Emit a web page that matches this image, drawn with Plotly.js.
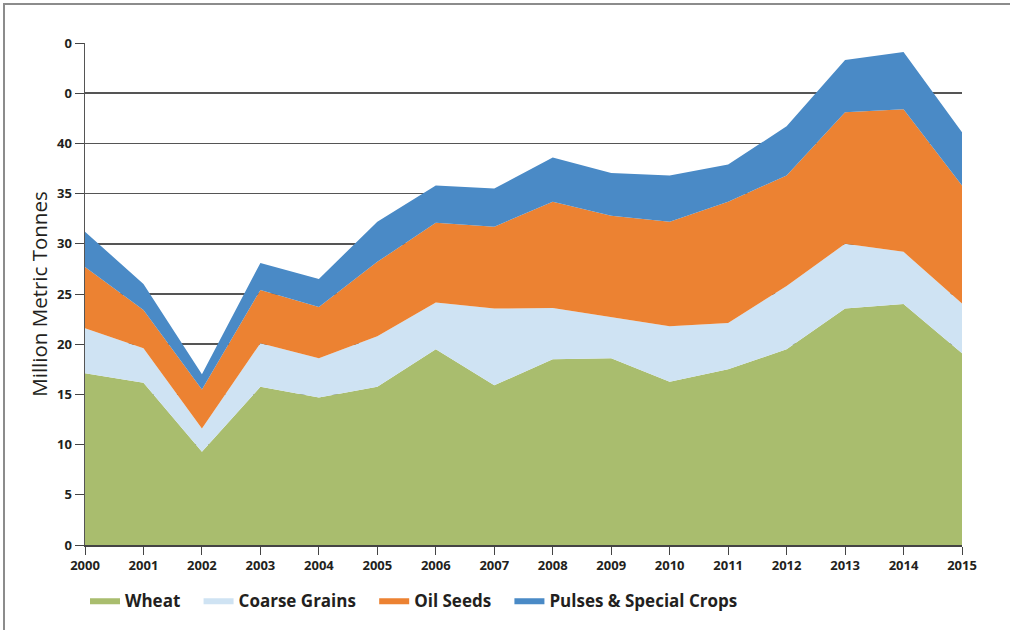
<!DOCTYPE html>
<html>
<head>
<meta charset="utf-8">
<script src="https://cdn.plot.ly/plotly-3.0.1.min.js"></script>
<style>
  body { margin: 0; background: #fff; }
  #frame { position: absolute; left: 3px; top: 3px; width: 1010px; height: 630px;
           border-left: 2px solid #8c8c8c; border-top: 2px solid #8c8c8c; }
  #graph { position: absolute; left: 0; top: 0; width: 1010px; height: 630px; }
</style>
</head>
<body>
<div id="frame"></div>
<div id="graph"></div>
<script>
const years = [2000, 2001, 2002, 2003, 2004, 2005, 2006, 2007, 2008, 2009, 2010, 2011, 2012, 2013, 2014, 2015];

const wheat = [17.1, 16.15, 9.3, 15.75, 14.7, 15.75, 19.5, 15.9, 18.5, 18.6, 16.25, 17.5, 19.5, 23.55, 24.0, 19.1];
const coarseGrains = [4.5, 3.45, 2.3, 4.35, 3.9, 5.05, 4.65, 7.65, 5.1, 4.1, 5.55, 4.6, 6.3, 6.45, 5.2, 4.95];
const oilSeeds = [6.1, 3.8, 3.9, 5.3, 5.1, 7.4, 7.95, 8.15, 10.6, 10.1, 10.4, 12.1, 11.0, 13.1, 14.2, 11.75];
const pulses = [3.5, 2.6, 1.5, 2.7, 2.8, 4.0, 3.7, 3.8, 4.4, 4.25, 4.6, 3.7, 4.9, 5.2, 5.7, 5.3];

const yTickVals = [0, 5, 10, 15, 20, 25, 30, 35, 40, 45, 50];
const yTickText = ['0', '5', '10', '15', '20', '25', '30', '35', '40', '0', '0'];

const names = ['Wheat', 'Coarse Grains', 'Oil Seeds', 'Pulses & Special Crops'];
const colors = ['#a9bd6e', '#cfe3f3', '#ec8232', '#4a8ac6'];
const series = [wheat, coarseGrains, oilSeeds, pulses];

// a little padding after each legend label, the original spaces them widely
const pad = '\u00a0\u00a0\u00a0';

const traces = series.map((vals, i) => ({
    x: years,
    y: vals,
    name: names[i] + pad,
    type: 'scatter',
    mode: 'lines',
    stackgroup: 'one',
    line: { width: 0, color: colors[i] },
    fillcolor: colors[i],
    hoverinfo: 'skip'
}));

const layout = {
    width: 1010,
    height: 630,
    margin: { l: 85, r: 48, t: 43, b: 85 },
    paper_bgcolor: 'rgba(0,0,0,0)',
    plot_bgcolor: '#fff',
    font: { family: 'Open Sans, sans-serif', color: '#231f20' },
    showlegend: true,
    legend: {
        orientation: 'h',
        x: 0, xanchor: 'left',
        yref: 'container',
        y: 0.075, yanchor: 'top',
        traceorder: 'normal',
        font: { size: 17, family: 'Open Sans, sans-serif', weight: 'bold' },
        itemwidth: 30
    },
    xaxis: {
        range: [2000, 2015],
        tickvals: years,
        ticks: 'outside',
        ticklen: 8,
        tickcolor: '#444',
        showgrid: false,
        showline: true,
        linecolor: '#444',
        linewidth: 1.5,
        zeroline: false,
        tickfont: { size: 13, weight: 'bold' }
    },
    yaxis: {
        range: [0, 50],
        tickvals: yTickVals,
        ticktext: yTickText,
        ticks: 'outside',
        ticklen: 9,
        tickcolor: '#444',
        showgrid: true,
        gridcolor: '#555',
        gridwidth: 1.5,
        showline: true,
        linecolor: '#555',
        linewidth: 1.5,
        zeroline: false,
        tickfont: { size: 13, weight: 'bold' },
        title: { text: 'Million Metric Tonnes', font: { size: 20.5 }, standoff: 4 }
    }
};

Plotly.newPlot('graph', traces, layout, { displayModeBar: false, staticPlot: true });
</script>
</body>
</html>
